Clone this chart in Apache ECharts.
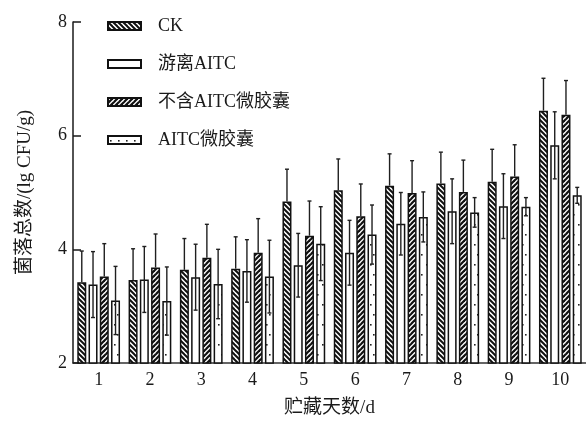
<!DOCTYPE html>
<html>
<head>
<meta charset="utf-8">
<script src="https://cdn.jsdelivr.net/npm/echarts@6/dist/echarts.min.js"></script>
<style>
html,body{margin:0;padding:0;background:#fff;}
#chart{width:586px;height:423px;}
</style>
</head>
<body>
<div id="chart"></div>
<script>
// ---- data ----
var days = ['1','2','3','4','5','6','7','8','9','10'];
var seriesNames = ['CK', '游离AITC', '不含AITC微胶囊', 'AITC微胶囊'];
var ck      = [3.42, 3.46, 3.64, 3.66, 4.84, 5.04, 5.12, 5.16, 5.19, 6.44];
var ckSd    = [0.55, 0.55, 0.55, 0.56, 0.57, 0.55, 0.56, 0.55, 0.57, 0.57];
var free    = [3.38, 3.47, 3.51, 3.62, 3.72, 3.94, 4.45, 4.67, 4.76, 5.83];
var freeSd  = [0.58, 0.58, 0.58, 0.55, 0.56, 0.57, 0.55, 0.57, 0.57, 0.59];
var noAitc  = [3.52, 3.68, 3.85, 3.94, 4.24, 4.58, 4.99, 5.01, 5.28, 6.37];
var noAitcSd= [0.58, 0.59, 0.59, 0.60, 0.61, 0.57, 0.57, 0.56, 0.56, 0.60];
var caps    = [3.10, 3.09, 3.39, 3.52, 4.10, 4.26, 4.57, 4.65, 4.75, 4.95];
var capsSd  = [0.60, 0.60, 0.61, 0.64, 0.65, 0.52, 0.44, 0.26, 0.16, 0.14];
var yTicks  = [2, 4, 6, 8];

// ---- patterns ----
function hatch(dir, s, lw){
  var c = document.createElement('canvas'); c.width = s; c.height = s;
  var g = c.getContext('2d');
  g.fillStyle = '#fff'; g.fillRect(0,0,s,s);
  g.strokeStyle = '#111'; g.lineWidth = lw;
  for (var k=-1;k<=1;k++){
    g.beginPath();
    if (dir === 'back'){ g.moveTo(-1, -1 + k*s); g.lineTo(s+1, s+1 + k*s); }
    else { g.moveTo(-1, s+1 + k*s); g.lineTo(s+1, -1 + k*s); }
    g.stroke();
  }
  return c;
}
function dots(){
  var c = document.createElement('canvas'); c.width = 8; c.height = 20;
  var g = c.getContext('2d');
  g.fillStyle = '#fff'; g.fillRect(0,0,8,20);
  g.fillStyle = '#222';
  g.fillRect(2,4,1.6,1.6);
  g.fillRect(5,14,1.6,1.6);
  return c;
}
var pCK = {image: hatch('back', 5, 2), repeat: 'repeat'};
var pNo = {image: hatch('fwd', 5, 2.2), repeat: 'repeat'};
var pDot = {image: dots(), repeat: 'repeat'};

var BAR_W = 9, GAP = 0.25;
var pitch = BAR_W * (1 + GAP);
var offsets = [-1.5*pitch, -0.5*pitch, 0.5*pitch, 1.5*pitch];
var FONT = "'Liberation Serif', 'Noto Sans CJK SC', serif";

var means = [ck, free, noAitc, caps];
var sds = [ckSd, freeSd, noAitcSd, capsSd];
var fills = [pCK, '#fff', pNo, pDot];
var fullErr = [false, true, false, true];

var series = [];
for (var s=0;s<4;s++){
  series.push({
    name: seriesNames[s], type: 'bar', data: means[s],
    barWidth: BAR_W, barGap: (GAP*100)+'%',
    itemStyle: {color: fills[s], borderColor: '#111', borderWidth: 1.5},
    z: 2, silent: true
  });
}
for (var s2=0;s2<4;s2++){
  (function(si){
    series.push({
      type: 'custom', z: 5, silent: true,
      data: means[si].map(function(v,i){ return [i, v, sds[si][i]]; }),
      renderItem: function(params, api){
        var i = api.value(0), m = api.value(1), sd = api.value(2);
        var p = api.coord([i, m]);
        var t = api.coord([i, m + sd]);
        var b = api.coord([i, m - sd]);
        var x = p[0] + offsets[si];
        var y0 = fullErr[si] ? b[1] : p[1];
        var st = {stroke: '#1f1f1f', lineWidth: 1.4};
        var ch = [
          {type:'line', shape:{x1:x, y1:y0, x2:x, y2:t[1]}, style: st},
          {type:'line', shape:{x1:x-2, y1:t[1], x2:x+2, y2:t[1]}, style: st}
        ];
        if (fullErr[si]) ch.push({type:'line', shape:{x1:x-2, y1:b[1], x2:x+2, y2:b[1]}, style: st});
        return {type:'group', children: ch};
      }
    });
  })(s2);
}

var chart = echarts.init(document.getElementById('chart'), null, {renderer:'canvas'});
chart.setOption({
  animation: false,
  backgroundColor: '#fff',
  grid: {left: 73, top: 22, width: 520, height: 348, containLabel: false},
  legend: {
    orient: 'vertical', left: 107, top: 17, padding: 0,
    itemWidth: 33, itemHeight: 8, itemGap: 20,
    icon: 'rect',
    data: seriesNames,
    textStyle: {fontFamily: FONT, fontSize: 18, color: '#1a1a1a', padding: [0,0,0,12]}
  },
  xAxis: {
    type: 'category', data: days,
    name: '贮藏天数/d', nameLocation: 'middle', nameGap: 36,
    nameTextStyle: {fontFamily: FONT, fontSize: 19, color: '#1a1a1a'},
    axisLine: {lineStyle: {color: '#333', width: 1.5}},
    axisTick: {show: false},
    axisLabel: {fontFamily: FONT, fontSize: 18, color: '#1a1a1a', margin: 8}
  },
  yAxis: {
    type: 'value', min: yTicks[0], max: yTicks[yTicks.length-1], interval: 2,
    name: '菌落总数/(lg CFU/g)', nameLocation: 'middle', nameGap: 38,
    nameTextStyle: {fontFamily: FONT, fontSize: 19, color: '#1a1a1a'},
    axisLine: {show: true, lineStyle: {color: '#1a1a1a', width: 1.5}},
    axisTick: {show: true, inside: true, length: 8, lineStyle: {color: '#1a1a1a', width: 1.5}},
    splitLine: {show: false},
    axisLabel: {fontFamily: FONT, fontSize: 18, color: '#1a1a1a', margin: 6}
  },
  series: series
});
</script>
</body>
</html>
